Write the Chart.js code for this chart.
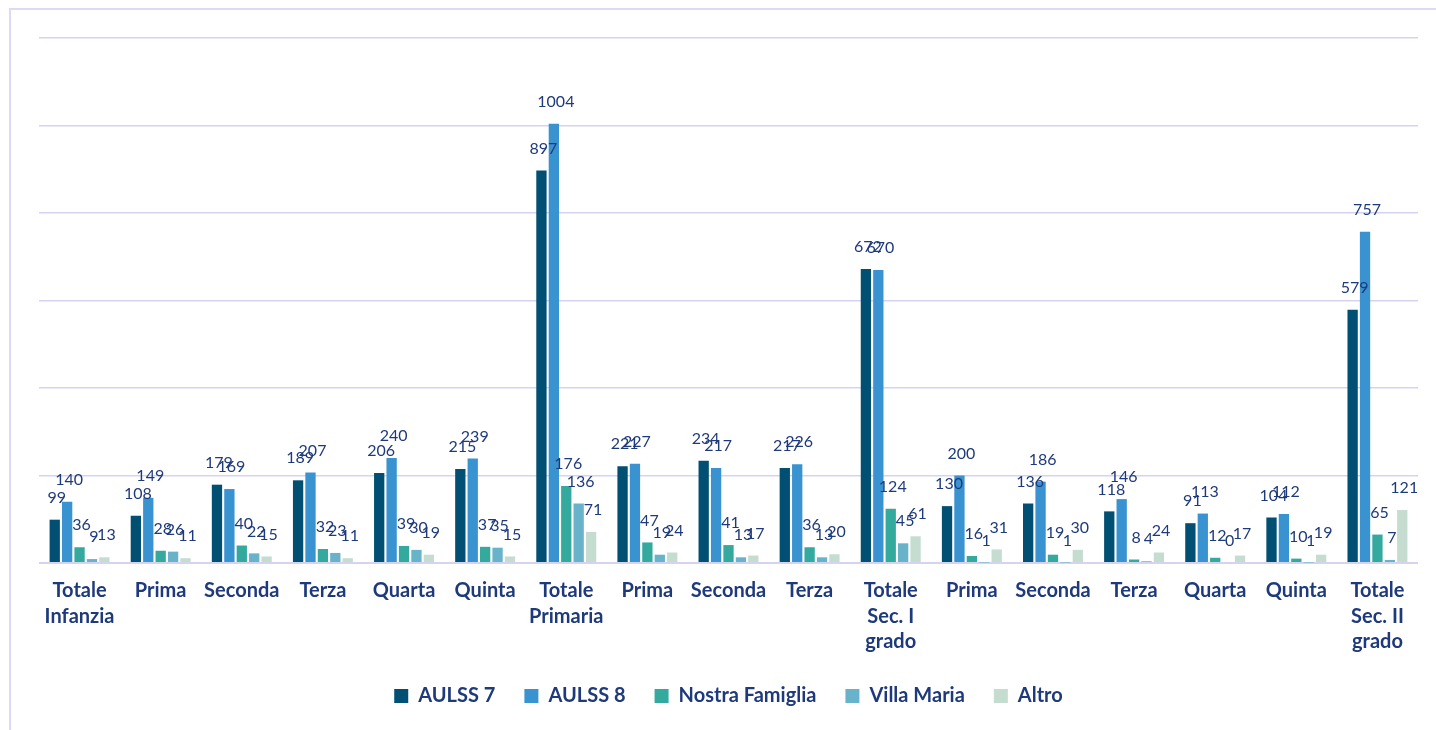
<!DOCTYPE html>
<html>
<head>
<meta charset="utf-8">
<script src="https://cdn.jsdelivr.net/npm/chart.js@4"></script>
<style>
  body { margin: 0; background: #ffffff; }
  #wrapper { position: relative; width: 1436px; height: 730px; }
  #frame {
    position: absolute; left: 9px; top: 8px; right: 0; bottom: 0;
    border-top: 2px solid #dcd9f0; border-left: 2px solid #dcd9f0;
    pointer-events: none;
  }
</style>
</head>
<body>
<div id="wrapper">
  <canvas id="myChart" width="1436" height="730"></canvas>
  <div id="frame"></div>
</div>
<script>
let categories = [
  ["Totale", "Infanzia"], "Prima", "Seconda", "Terza", "Quarta", "Quinta",
  ["Totale", "Primaria"], "Prima", "Seconda", "Terza",
  ["Totale", "Sec. I", "grado"], "Prima", "Seconda", "Terza", "Quarta", "Quinta",
  ["Totale", "Sec. II", "grado"]
];
let aulss7 = [99, 108, 179, 189, 206, 215, 897, 221, 234, 217, 672, 130, 136, 118, 91, 104, 579];
let aulss8 = [140, 149, 169, 207, 240, 239, 1004, 227, 217, 226, 670, 200, 186, 146, 113, 112, 757];
let nostraFamiglia = [36, 28, 40, 32, 39, 37, 176, 47, 41, 36, 124, 16, 19, 8, 12, 10, 65];
let villaMaria = [9, 26, 22, 23, 30, 35, 136, 19, 13, 13, 45, 1, 1, 4, 0, 1, 7];
let altro = [13, 11, 15, 11, 19, 15, 71, 24, 17, 20, 61, 31, 30, 24, 17, 19, 121];

let textColor = "#1f3a7b";
let gridColor = "#d6d3f0";

let valueLabels = {
  id: "valueLabels",
  afterDatasetsDraw(chart) {
    let ctx = chart.ctx;
    ctx.save();
    ctx.font = "16px Lato";
    ctx.fillStyle = textColor;
    ctx.textAlign = "center";
    ctx.textBaseline = "middle";
    chart.data.datasets.forEach((dataset, i) => {
      let meta = chart.getDatasetMeta(i);
      meta.data.forEach((bar, j) => {
        ctx.fillText(dataset.data[j], bar.x + 2, bar.y - 22);
      });
    });
    ctx.restore();
  }
};

let data = {
  labels: categories,
  datasets: [
    { label: "AULSS 7", data: aulss7, backgroundColor: "#014f72" },
    { label: "AULSS 8", data: aulss8, backgroundColor: "#3893d0" },
    { label: "Nostra Famiglia", data: nostraFamiglia, backgroundColor: "#34aa9f" },
    { label: "Villa Maria", data: villaMaria, backgroundColor: "#68b3ca" },
    { label: "Altro", data: altro, backgroundColor: "#c4ddd0" }
  ]
};

let config = {
  type: "bar",
  data: data,
  options: {
    responsive: false,
    animation: false,
    datasets: { bar: { categoryPercentage: 0.765, barPercentage: 0.83 } },
    layout: { padding: { left: 39, right: 18, top: 38, bottom: 14 } },
    plugins: {
      tooltip: { enabled: false },
      legend: {
        position: "bottom",
        labels: {
          boxWidth: 14,
          boxHeight: 14,
          padding: 29,
          color: textColor,
          font: { family: "Lato", size: 20, weight: "bold" }
        }
      }
    },
    scales: {
      x: {
        grid: { display: false },
        border: { display: false },
        ticks: {
          color: textColor,
          padding: 7,
          maxRotation: 0,
          autoSkip: false,
          font: { family: "Lato", size: 20, weight: "bold", lineHeight: "25.5px" }
        },
        afterFit: (scale) => { scale.height = 94; }
      },
      y: {
        min: 0,
        max: 1200,
        ticks: { display: false, stepSize: 200 },
        border: { display: false },
        grid: {
          drawTicks: false,
          color: gridColor,
          lineWidth: (c) => (c.tick && c.tick.value === 0 ? 2 : 1.5)
        },
        afterFit: (scale) => { scale.width = 0; }
      }
    }
  },
  plugins: [valueLabels]
};

let myChart = new Chart(document.getElementById("myChart"), config);
</script>
</body>
</html>
